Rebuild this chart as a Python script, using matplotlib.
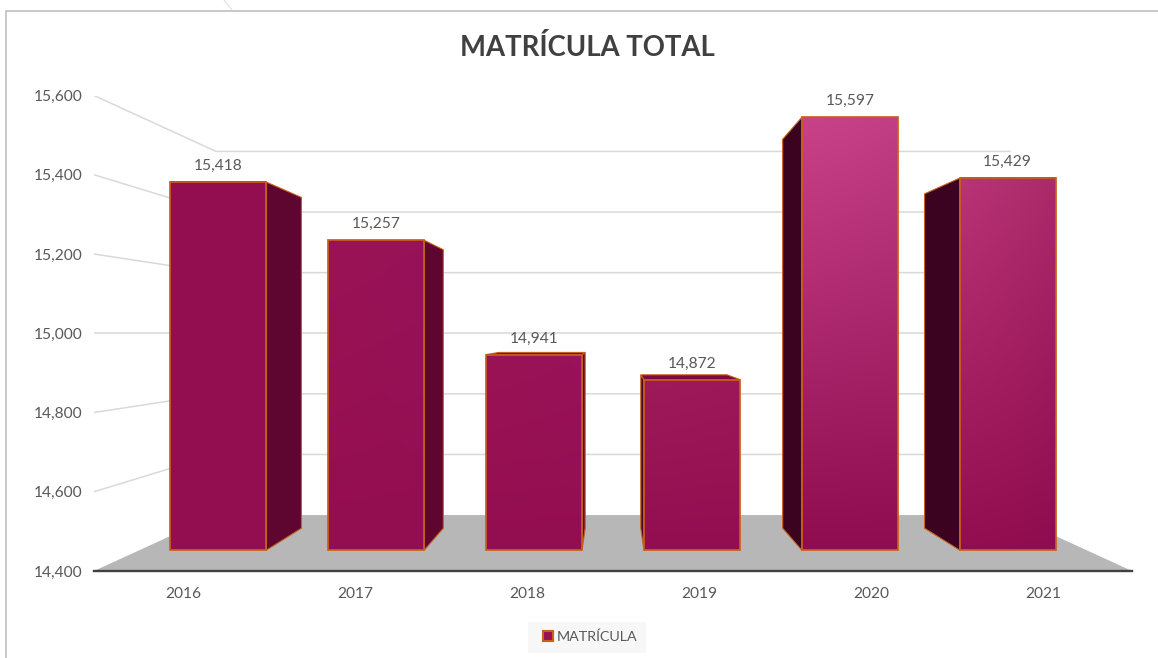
import numpy as np
import matplotlib.pyplot as plt
from matplotlib.colors import to_rgb
from matplotlib.lines import Line2D
from matplotlib.patches import Patch, Polygon, Rectangle

plt.rcParams['font.family'] = ['Lato', 'DejaVu Sans']

years = ['2016', '2017', '2018', '2019', '2020', '2021']
values = [15418, 15257, 14941, 14872, 15597, 15429]
y_ticks = [14400, 14600, 14800, 15000, 15200, 15400, 15600]
# front face colours: top left, top right, bottom left, bottom right
face_colors = [
    ['#940F51', '#940F51', '#930E50', '#930E50'],
    ['#9A1355', '#98125A', '#930E50', '#930E50'],
    ['#9A1355', '#99125A', '#930E50', '#930E50'],
    ['#9E1A5A', '#9C1858', '#930E50', '#930E50'],
    ['#C8428A', '#C23E84', '#8F0C50', '#8F0C50'],
    ['#B83476', '#AC2A6A', '#930E50', '#8F0C50'],
]
side_colors = ['#5E0530', '#5E0530', '#5E0530', '#4A0428', '#3B0320', '#3B0320']
top_colors = ['#7A0A40', '#7A0A40', '#7A0A40', '#7A0A40', '#7A0A40', '#7A0A40']

# perspective: everything shrinks towards the centre of the plot
vp_x = 2.5
vp_y = 15000
s_outer = 1.0958
s_ticks = 1.09
s_bar_back = 0.8986
s_wall = 0.838
half_w = 0.304
edge = '#C8601A'


def proj(x, v, s):
    return vp_x + (x - vp_x) * s, vp_y + (v - vp_y) * s


def gradient(c, n=64):
    # smooth fill between the four corner colours
    tl, tr, bl, br = [np.array(to_rgb(k)) for k in c]
    u = np.linspace(0, 1, n)[None, :, None]
    w = np.linspace(0, 1, n)[:, None, None]
    return (1 - w) * ((1 - u) * tl + u * tr) + w * ((1 - u) * bl + u * br)


fig = plt.figure(figsize=(11.58, 6.58), dpi=100)
ax = fig.add_axes([94 / 1158, 1 - 571 / 658, (1132 - 94) / 1158, (571 - 95.5) / 658])

x0, x1 = -0.5, len(years) - 0.5
low, high = y_ticks[0], y_ticks[-1]

# floor
floor = [proj(x0, low, s_outer), proj(x1, low, s_outer), proj(x1, low, s_wall), proj(x0, low, s_wall)]
ax.add_patch(Polygon(floor, facecolor='#B7B7B7', edgecolor='none', zorder=1))

# grid on left wall and back wall
for v in y_ticks[1:]:
    a = proj(x0, v, s_outer)
    b = proj(x0, v, s_wall)
    c = proj(x1, v, s_wall)
    ax.plot([a[0], b[0], c[0]], [a[1], b[1], c[1]], color='#D9D9D9', lw=1.1, zorder=2)

# bars, sides first
for i, v in enumerate(values):
    # the visible side is the one facing the middle
    xe = i + half_w if i < vp_x else i - half_w
    side = [proj(xe, low, 1), proj(xe, v, 1), proj(xe, v, s_bar_back), proj(xe, low, s_bar_back)]
    ax.add_patch(Polygon(side, facecolor=side_colors[i], edgecolor=edge, lw=0.8, zorder=3))
    if v < vp_y:
        top = [proj(i - half_w, v, 1), proj(i + half_w, v, 1),
               proj(i + half_w, v, s_bar_back), proj(i - half_w, v, s_bar_back)]
        ax.add_patch(Polygon(top, facecolor=top_colors[i], edgecolor=edge, lw=0.8, zorder=3))
    ax.imshow(gradient(face_colors[i]), extent=[i - half_w, i + half_w, low, v], origin='upper',
              aspect='auto', interpolation='bilinear', zorder=4)

bars = ax.bar(range(len(years)), [v - low for v in values], bottom=low, width=2 * half_w,
              facecolor='none', edgecolor=edge, lw=1.25, zorder=5)
labels = ['{:,}'.format(v) for v in values]
ax.bar_label(bars, labels=labels, padding=6.5, fontsize=11.2, color='#595959', zorder=6)

ax.set_xlim(proj(x0, low, s_outer)[0], proj(x1, low, s_outer)[0])
ax.set_ylim(proj(x0, low, s_outer)[1], proj(x0, high, s_outer)[1])

ax.set_xticks([proj(i, low, s_ticks)[0] for i in range(len(years))])
ax.set_xticklabels(years)
ax.set_yticks([proj(x0, v, s_outer)[1] for v in y_ticks])
ax.set_yticklabels(['{:,}'.format(v) for v in y_ticks])
ax.tick_params(axis='x', length=0, pad=11.5, labelsize=11.2, labelcolor='#595959')
ax.tick_params(axis='y', length=0, pad=8, labelsize=11.2, labelcolor='#595959')
for name in ['top', 'left', 'right']:
    ax.spines[name].set_visible(False)
ax.spines['bottom'].set_color('#404040')
ax.spines['bottom'].set_linewidth(1.7)
ax.patch.set_alpha(0)

fig.suptitle('MATRÍCULA TOTAL', x=587 / 1158, y=1 - 47 / 658, va='center', ha='center',
             fontsize=19.8, fontweight='bold', color='#404040')

# legend background sits a bit left of the entry, as in the source
fig.add_artist(Rectangle((528 / 1158, 1 - 653 / 658), 118 / 1158, 31 / 658, transform=fig.transFigure,
                         facecolor='#F7F7F7', edgecolor='none'))
handle = Patch(facecolor='#990F55', edgecolor=edge, lw=1.5)
leg = fig.legend([handle], ['MATRÍCULA'], loc='center', bbox_to_anchor=(590.5 / 1158, 1 - 637 / 658),
                 fontsize=10.3, labelcolor='#595959', frameon=False,
                 handlelength=0.68, handleheight=0.68, handletextpad=0.28, borderpad=0.7)

# outer frame of the pasted chart
fig.add_artist(Line2D([6 / 1158, 6 / 1158, 1], [0, 1 - 11 / 658, 1 - 11 / 658], color='#BFBFBF', lw=1.2))
fig.add_artist(Line2D([224 / 1158, 232 / 1158], [1, 1 - 10 / 658], color='#EAD9DD', lw=0.8))

fig.savefig('out.png', dpi=100)
